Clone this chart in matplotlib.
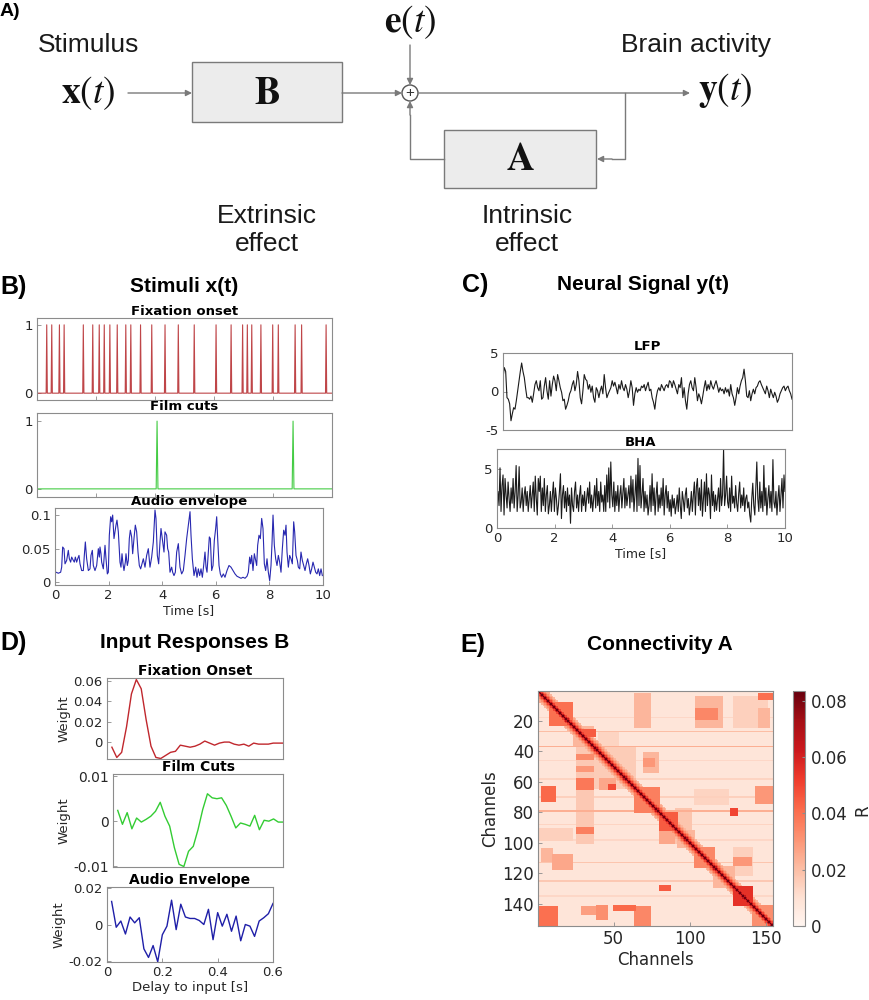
import matplotlib
matplotlib.use("Agg")
import matplotlib.pyplot as plt
import numpy as np
from matplotlib.patches import Rectangle, Circle
from matplotlib.ticker import FormatStrFormatter

plt.rcParams["font.family"] = ["DejaVu Sans"]
plt.rcParams["mathtext.fontset"] = "stix"
plt.rcParams["axes.unicode_minus"] = False

W, H = 869, 1000

# ---- data ----
fixation_onsets = [0.33, 0.50, 0.76, 0.92, 1.57, 1.89, 2.11, 2.28, 2.47, 2.72, 3.01, 3.18,
                   3.51, 3.89, 4.34, 4.79, 5.33, 6.07, 6.58, 6.97, 7.13, 7.28, 7.59, 7.99,
                   8.18, 8.75, 8.97, 9.80]
film_cuts = [4.07, 8.68]

audio_env = [
    (0.0, 0.015), (0.037, 0.015), (0.124, 0.0135), (0.211, 0.015), (0.249, 0.0225), (0.286, 0.0525),
    (0.336, 0.05), (0.373, 0.0275), (0.435, 0.0325), (0.497, 0.0475), (0.535, 0.035), (0.584, 0.03),
    (0.622, 0.0375), (0.684, 0.0325), (0.721, 0.03), (0.759, 0.0375), (0.808, 0.03), (0.846, 0.035),
    (0.895, 0.04), (0.933, 0.0275), (0.995, 0.0175), (1.057, 0.0175), (1.094, 0.04), (1.132, 0.06),
    (1.181, 0.035), (1.244, 0.0175), (1.306, 0.02), (1.343, 0.04), (1.393, 0.0475), (1.430, 0.025),
    (1.492, 0.0175), (1.555, 0.025), (1.617, 0.05), (1.654, 0.0375), (1.679, 0.0525), (1.716, 0.0425),
    (1.741, 0.03), (1.803, 0.02), (1.841, 0.0425), (1.866, 0.055), (1.903, 0.035), (1.953, 0.0125),
    (1.990, 0.015), (2.027, 0.07), (2.077, 0.0975), (2.114, 0.09), (2.152, 0.1), (2.201, 0.065),
    (2.239, 0.075), (2.276, 0.085), (2.313, 0.0925), (2.363, 0.075), (2.425, 0.03), (2.462, 0.0225),
    (2.500, 0.0425), (2.537, 0.0275), (2.574, 0.0175), (2.624, 0.03), (2.649, 0.0425), (2.699, 0.025),
    (2.736, 0.0325), (2.773, 0.065), (2.811, 0.0775), (2.860, 0.0675), (2.898, 0.0425), (2.947, 0.065),
    (2.997, 0.085), (3.047, 0.075), (3.097, 0.045), (3.146, 0.025), (3.196, 0.02), (3.246, 0.0275),
    (3.296, 0.035), (3.358, 0.0225), (3.420, 0.04), (3.482, 0.05), (3.544, 0.0225), (3.607, 0.0375),
    (3.669, 0.06), (3.731, 0.1075), (3.768, 0.095), (3.818, 0.04), (3.868, 0.0275), (3.918, 0.06),
    (3.955, 0.08), (4.017, 0.06), (4.067, 0.045), (4.104, 0.075), (4.166, 0.07), (4.204, 0.05),
    (4.241, 0.045), (4.291, 0.015), (4.353, 0.0225), (4.390, 0.015), (4.440, 0.01), (4.490, 0.015),
    (4.540, 0.045), (4.602, 0.0575), (4.664, 0.0225), (4.726, 0.0125), (4.788, 0.0175), (4.851, 0.04),
    (4.913, 0.065), (4.975, 0.085), (5.038, 0.105), (5.075, 0.07), (5.125, 0.035), (5.187, 0.01),
    (5.249, 0.0225), (5.299, 0.0075), (5.348, 0.02), (5.398, 0.01), (5.448, 0.02), (5.498, 0.0075),
    (5.547, 0.025), (5.597, 0.045), (5.635, 0.0225), (5.672, 0.015), (5.722, 0.045), (5.759, 0.0675),
    (5.796, 0.065), (5.846, 0.0175), (5.896, 0.025), (5.945, 0.0625), (5.995, 0.08), (6.033, 0.0975),
    (6.070, 0.065), (6.120, 0.025), (6.169, 0.0125), (6.219, 0.0075), (6.281, 0.0125), (6.343, 0.0075),
    (6.418, 0.0175), (6.493, 0.025), (6.567, 0.0225), (6.642, 0.0175), (6.717, 0.0125), (6.791, 0.009),
    (6.866, 0.0075), (6.941, 0.006), (7.015, 0.0075), (7.090, 0.006), (7.164, 0.009), (7.214, 0.015),
    (7.264, 0.0375), (7.301, 0.0275), (7.339, 0.04), (7.388, 0.0175), (7.438, 0.0425), (7.488, 0.0325),
    (7.525, 0.025), (7.562, 0.055), (7.612, 0.07), (7.662, 0.065), (7.712, 0.095), (7.761, 0.08),
    (7.811, 0.0275), (7.861, 0.0175), (7.911, 0.035), (7.960, 0.015), (8.010, 0.0025), (8.060, 0.025),
    (8.097, 0.0575), (8.135, 0.1), (8.184, 0.055), (8.234, 0.035), (8.284, 0.025), (8.334, 0.04),
    (8.383, 0.03), (8.433, 0.015), (8.483, 0.05), (8.533, 0.0775), (8.582, 0.07), (8.620, 0.085),
    (8.657, 0.045), (8.707, 0.0225), (8.756, 0.04), (8.806, 0.035), (8.856, 0.0275), (8.906, 0.09),
    (8.943, 0.075), (8.993, 0.04), (9.043, 0.0325), (9.080, 0.0225), (9.130, 0.02), (9.179, 0.045),
    (9.229, 0.0325), (9.279, 0.025), (9.329, 0.0175), (9.378, 0.0275), (9.428, 0.035), (9.478, 0.025),
    (9.528, 0.0125), (9.577, 0.02), (9.627, 0.03), (9.677, 0.0225), (9.727, 0.015), (9.776, 0.0125),
    (9.826, 0.02), (9.876, 0.01), (9.926, 0.02), (9.975, 0.01),
]

lfp = [1.8, 3.1, 2.6, -0.8, -1.0, -1.6, -3.8, -2.9, -2.1, -2.3, -1.2, 0.1, 1.4, 2.6, 3.7, 2.6, 1.8, 0.4, -0.8, -0.8,
       -1.0, -0.6, -1.4, -0.3, 0.9, 1.4, 0.5, 0.1, 1.4, -1.0, -0.8, 0.7, 1.8, 0.1, -1.0, 1.4, -0.6, 0.9, 2.0, 1.4,
       0.1, 2.2, 1.4, 0.5, -0.1, -1.2, -1.0, -2.3, -1.8, -1.2, -0.3, 0.1, 0.9, 1.4, 0.1, 0.9, 2.6, 1.4, -0.8, -1.6,
       0.1, 2.2, 1.6, 1.4, 0.3, 0.9, -0.1, 0.7, -0.8, -1.4, 0.5, 0.1, -0.8, 0.1, 0.7, -0.3, 2.2, 0.5, -0.8, -0.3,
       0.1, 0.5, 1.4, 0.7, 1.2, 0.5, -0.3, 0.9, 0.3, 1.4, 0.5, 0.1, 0.9, 0.3, -0.8, 0.1, 1.4, 0.5, -1.8, -0.3,
       0.5, -0.1, 0.3, 0.1, 0.7, 0.5, 0.9, 0.1, 0.7, 1.2, 0.1, 0.3, -0.8, -1.4, -2.3, -0.8, 0.1, 0.5, 0.1, 0.9,
       0.5, 0.1, 0.7, 0.9, 0.5, 1.4, 1.2, 0.5, 1.4, 0.9, 0.3, -0.3, 0.9, 0.5, 1.8, -0.8, 0.5, -1.2, -2.3, -0.3,
       0.9, 1.4, 0.5, 0.1, 1.8, 0.5, -1.2, -0.3, -0.8, -1.6, -0.6, 0.5, 1.4, 0.1, 0.9, 0.3, 1.4, 0.7, 0.3, 0.9,
       1.4, 0.7, -0.1, 0.5, 0.1, 0.3, -0.3, 0.5, -0.1, 0.3, -0.6, 0.9, -0.3, -0.8, -1.8, -0.8, 0.5, -0.3, 0.7, 1.4,
       1.8, 2.9, 1.4, -0.6, -0.8, 0.1, -1.2, -0.3, 0.3, -0.3, 0.5, 0.7, 1.2, 1.4, 0.9, 0.5, 0.1, -0.3, 0.7, 0.1,
       -0.8, 0.3, -0.3, -0.8, -0.1, -0.6, -1.4, -1.0, -0.3, 0.1, 0.5, 0.7, 0.1, 0.5, 0.7, 0.1, -0.3, -1.0]

bha = [2.2, 3.1, 1.9, 5.1, 1.4, 3.6, 4.5, 1.1, 4.2, 2.8, 1.7, 3.9, 2.5, 1.4, 3.4, 2.1, 4.2, 1.7, 3.1, 5.3,
       1.4, 2.8, 5.2, 1.7, 2.2, 3.4, 1.4, 2.8, 3.5, 1.9, 3.1, 1.4, 2.5, 3.6, 1.7, 2.8, 3.9, 1.4, 4.4, 2.5,
       1.1, 4.2, 3.1, 4.4, 1.4, 3.4, 1.9, 4.2, 1.4, 2.8, 3.6, 1.2, 1.9, 3.1, 1.4, 2.8, 3.9, 1.4, 3.4, 2.5,
       1.1, 1.9, 3.1, 4.6, 0.8, 2.8, 3.6, 1.7, 3.1, 1.4, 3.4, 1.9, 2.8, 0.4, 3.4, 1.9, 1.4, 3.1, 3.9, 1.7,
       2.8, 1.4, 2.8, 3.6, 1.4, 2.8, 1.9, 3.1, 1.4, 2.5, 3.4, 2.1, 3.9, 1.7, 2.8, 1.4, 2.5, 3.6, 1.7, 4.2,
       1.9, 3.1, 1.4, 3.9, 2.2, 2.8, 1.4, 3.6, 1.4, 4.5, 2.2, 5.1, 1.7, 5.6, 2.8, 1.8, 3.9, 1.4, 3.1, 1.9,
       3.6, 1.4, 2.8, 3.6, 1.7, 2.9, 4.2, 1.7, 3.4, 1.9, 2.8, 3.6, 1.7, 4.4, 2.2, 4.1, 1.4, 2.8, 4.5, 1.4,
       5.9, 1.9, 5.3, 1.7, 2.8, 4.2,
       1.4, 3.1, 1.7, 2.8, 1.1, 1.9, 3.6, 1.4, 4.6, 1.9, 3.4, 1.1, 2.8, 3.9, 1.4, 2.8, 1.7, 3.4, 1.9, 4.2,
       1.1, 2.8, 3.6, 1.7, 3.1, 1.4, 2.4, 1.0, 2.8, 1.7, 2.5, 1.2, 1.9, 2.8, 1.4, 3.4, 1.9, 0.8, 3.1, 2.4,
       1.4, 2.8, 3.4, 1.7, 2.5, 1.1, 1.9, 3.1, 1.4, 2.8, 3.9, 1.1, 3.5, 4.2, 1.9, 3.4, 1.5, 4.1, 1.0, 2.5,
       3.9, 1.4, 4.6, 1.9, 3.4, 2.8, 0.8, 4.5, 1.9, 3.1, 1.4, 2.8, 1.5, 2.5, 3.4, 1.4, 4.2, 1.9, 2.8, 6.7,
       1.9, 2.8, 4.4, 2.2, 1.7, 3.4, 1.4, 4.4, 2.1, 2.7, 1.7, 3.6, 2.1, 1.4, 2.9, 3.9, 1.7, 2.8, 1.9, 3.4,
       1.4, 2.5, 2.8, 1.7, 2.2, 1.1, 0.5, 2.5, 3.8, 1.9, 1.1, 3.4, 5.6, 2.5, 1.4, 3.9, 1.7, 3.1, 1.4, 5.3,
       1.9, 3.4, 1.1, 2.5, 3.6, 1.7, 3.1, 1.4, 5.8, 2.2, 1.7, 3.1, 1.1, 2.5, 3.6, 1.4, 2.8, 4.2, 1.7, 4.5, 3.1]

# kernels B, one value per lag of 1/60 s (36 lags)
kernel_fixation = [-0.005, -0.015, -0.010, 0.015, 0.047, 0.061, 0.052, 0.022, -0.004, -0.015, -0.016, -0.013,
                   -0.010, -0.009, -0.003, -0.004, -0.005, -0.004, -0.002, 0.001, -0.001, -0.003, -0.001, 0.000,
                   0.000, -0.002, -0.003, -0.002, -0.004, -0.001, -0.002, -0.002, -0.002, -0.001, -0.001, -0.001]
kernel_film = [0.0024, -0.0007, 0.0019, -0.0017, 0.0007, -0.0002, 0.0004, 0.0011, 0.0022, 0.0042, 0.0011, -0.0011,
               -0.0059, -0.0096, -0.0101, -0.0067, -0.0056, -0.0019, 0.0026, 0.0061, 0.0052, 0.0050, 0.0052, 0.0035,
               0.0011, -0.0015, -0.0004, -0.0007, -0.0011, 0.0013, -0.0019, 0.0002, 0.0000, 0.0005, -0.0002, -0.0002]
kernel_audio = [0.0126, -0.0015, 0.0019, -0.0052, 0.0041, 0.0009, 0.0037, -0.0133, -0.018, -0.0115, -0.0204, -0.0056,
                -0.0009, 0.0133, -0.0028, 0.0111, 0.0041, 0.0033, 0.0033, 0.0022, 0.0000, 0.0083, -0.0083, 0.0065,
                -0.0009, 0.0056, -0.0037, 0.0046, -0.0089, 0.0000, -0.0009, -0.0065, 0.0019, 0.0037, 0.0059, 0.0115]
lag_step = 1 / 60

# connectivity A: 154 channels, described by blocks (first, last channel, value)
n_channels = 154
background_r = 0.008
# value at distance 0, 1, 2, ... from the diagonal
diag_band = [0.083, 0.065, 0.05, 0.04, 0.032, 0.026, 0.022]
diag_blocks = [(1, 8, 0.026), (8, 23, 0.04), (24, 37, 0.022), (38, 64, 0.016), (64, 80, 0.036),
               (80, 92, 0.045), (92, 103, 0.022), (103, 116, 0.034), (116, 129, 0.022), (129, 141, 0.055),
               (141, 154, 0.032)]
# (row first, row last, col first, col last, value)
offdiag_patches = [
    (63, 73, 3, 12, 0.042), (142, 154, 1, 13, 0.04), (108, 117, 10, 23, 0.026), (104, 112, 3, 10, 0.022),
    (28, 100, 26, 37, 0.017), (42, 45, 26, 37, 0.033), (50, 53, 26, 37, 0.03), (58, 65, 26, 37, 0.038),
    (90, 94, 26, 37, 0.036), (26, 30, 27, 38, 0.045), (58, 65, 41, 51, 0.026), (62, 65, 47, 51, 0.048),
    (38, 50, 42, 64, 0.015), (2, 24, 64, 74, 0.022), (41, 54, 70, 79, 0.022), (4, 24, 104, 121, 0.022),
    (12, 19, 104, 118, 0.034), (4, 24, 129, 151, 0.015), (12, 24, 145, 152, 0.022), (2, 6, 145, 154, 0.04),
    (63, 74, 143, 154, 0.03), (78, 82, 127, 131, 0.05), (128, 131, 80, 87, 0.045), (141, 144, 50, 64, 0.042),
    (142, 147, 29, 38, 0.028), (141, 150, 39, 46, 0.032), (142, 154, 64, 74, 0.034), (87, 100, 80, 90, 0.026),
    (78, 100, 91, 101, 0.018), (110, 115, 129, 140, 0.03), (103, 121, 129, 141, 0.015), (91, 98, 1, 23, 0.015),
    (28, 38, 40, 53, 0.014), (65, 75, 103, 125, 0.014), (45, 50, 70, 77, 0.03),
]
streak_rows = [(27, 0.02), (37, 0.024), (58, 0.014), (79, 0.024), (98, 0.013), (113, 0.018),
               (125, 0.017), (135, 0.013), (18, 0.013), (88, 0.014), (46, 0.013), (70, 0.015)]

# ---- build connectivity matrix ----
conn = np.full((n_channels, n_channels), background_r)
for a, b, v in diag_blocks:
    conn[a - 1:b, a - 1:b] = np.maximum(conn[a - 1:b, a - 1:b], v)
for r0, r1, c0, c1, v in offdiag_patches:
    conn[r0 - 1:r1, c0 - 1:c1] = np.maximum(conn[r0 - 1:r1, c0 - 1:c1], v)
for r, v in streak_rows:
    conn[r - 1, :] = np.maximum(conn[r - 1, :], v)
idx = np.arange(n_channels)
for d, v in enumerate(diag_band):
    i = idx[:n_channels - d]
    conn[i, i + d] = np.maximum(conn[i, i + d], v)
    conn[i + d, i] = np.maximum(conn[i + d, i], v)

# ---- figure ----
fig = plt.figure(figsize=(W / 100, H / 100), dpi=100)

GRAY = "#8c8c8c"
TXT = "#262626"
FS = 9.5


def add_ax(x0, y0, x1, y1):
    return fig.add_axes([x0 / W, 1 - y1 / H, (x1 - x0) / W, (y1 - y0) / H])


def ftext(x, y, s, **kw):
    fig.text(x / W, 1 - y / H, s, **kw)


def style(ax, fs=FS):
    for s in ax.spines.values():
        s.set_color(GRAY)
        s.set_linewidth(0.8)
    ax.tick_params(direction="in", length=3, width=0.6, color=GRAY,
                   labelcolor=TXT, labelsize=fs, pad=3)


def spikes(times, width):
    xs, ys = [0.0], [0.0]
    for t in times:
        xs += [t - width, t, t + width]
        ys += [0, 1, 0]
    xs.append(10.0)
    ys.append(0.0)
    return xs, ys


# ---- panel A: schematic ----
axa = fig.add_axes([0, 1 - 270 / H, 1, 270 / H])
axa.set_xlim(0, W)
axa.set_ylim(270, 0)
axa.axis("off")
LC = "#7a7a7a"
arr = dict(arrowstyle="-|>", color=LC, lw=1.0, mutation_scale=9, shrinkA=0, shrinkB=0)
axa.add_patch(Rectangle((192, 62), 150, 60, facecolor="#ececec", edgecolor=LC, lw=1.0))
axa.add_patch(Rectangle((444, 130), 152, 58, facecolor="#ececec", edgecolor=LC, lw=1.0))
axa.add_patch(Circle((410, 93), 8, facecolor="white", edgecolor="#555555", lw=1.0))
axa.text(410, 93.5, "+", ha="center", va="center", fontsize=11, color="#333333", family="Liberation Sans")
axa.annotate("", xy=(192, 93), xytext=(128, 93), arrowprops=arr)
axa.annotate("", xy=(402, 93), xytext=(342, 93), arrowprops=arr)
axa.annotate("", xy=(410, 85), xytext=(410, 45), arrowprops=arr)
axa.annotate("", xy=(690, 93), xytext=(418, 93), arrowprops=arr)
axa.plot([625, 625, 612], [93, 159, 159], color=LC, lw=1.0)
axa.annotate("", xy=(597, 159), xytext=(612, 159), arrowprops=arr)
axa.plot([444, 410, 410], [159, 159, 115], color=LC, lw=1.0)
axa.annotate("", xy=(410, 101), xytext=(410, 115), arrowprops=arr)

axa.text(0, 12, "A)", fontsize=14, fontweight="bold", family="Liberation Sans", va="center", ha="left")
sty = dict(fontsize=19, family="Liberation Sans", color="#1a1a1a")
axa.text(38, 45, "Stimulus", ha="left", va="center", **sty)
axa.text(696, 45, "Brain activity", ha="center", va="center", **sty)
axa.text(267, 230, "Extrinsic\neffect", ha="center", va="center", linespacing=1.25, **sty)
axa.text(527, 230, "Intrinsic\neffect", ha="center", va="center", linespacing=1.25, **sty)
axa.text(88, 93, r"$\mathbf{x}(t)$", ha="center", va="center", fontsize=27, color="#111111")
axa.text(410, 22, r"$\mathbf{e}(t)$", ha="center", va="center", fontsize=27, color="#111111")
axa.text(725, 90, r"$\mathbf{y}(t)$", ha="center", va="center", fontsize=27, color="#111111")
axa.text(267, 93, r"$\mathbf{B}$", ha="center", va="center", fontsize=28, color="#111111")
axa.text(520, 159, r"$\mathbf{A}$", ha="center", va="center", fontsize=28, color="#111111")

# ---- panel headings ----
hd = dict(family="Liberation Sans", fontweight="bold", va="center", color="black")
ftext(0, 287, "B)", fontsize=18, ha="left", **hd)
ftext(184, 287, "Stimuli x(t)", fontsize=15, ha="center", **hd)
ftext(462, 285, "C)", fontsize=18, ha="left", **hd)
ftext(643, 285, "Neural Signal y(t)", fontsize=15, ha="center", **hd)
ftext(0, 643, "D)", fontsize=18, ha="left", **hd)
ftext(195, 643, "Input Responses B", fontsize=15, ha="center", **hd)
ftext(460, 645, "E)", fontsize=18, ha="left", **hd)
ftext(660, 645, "Connectivity A", fontsize=15, ha="center", **hd)

sub = dict(fontsize=9.5, fontweight="bold", pad=2.5)

# ---- panel B ----
ax = add_ax(37, 318, 332, 400)
xs, ys = spikes(fixation_onsets, 0.02)
ax.plot(xs, ys, color="#bf4548", lw=0.8)
ax.set_xlim(0, 10)
ax.set_ylim(-0.1, 1.1)
ax.set_yticks([0, 1])
ax.set_xticks(range(0, 11, 2))
ax.set_xticklabels([])
ax.set_title("Fixation onset", **sub)
style(ax)

ax = add_ax(37, 413, 332, 497)
xs, ys = spikes(film_cuts, 0.03)
ax.plot(xs, ys, color="#45cc45", lw=0.8)
ax.set_xlim(0, 10)
ax.set_ylim(-0.12, 1.12)
ax.set_yticks([0, 1])
ax.set_xticks(range(0, 11, 2))
ax.set_xticklabels([])
ax.set_title("Film cuts", **sub)
style(ax)

ax = add_ax(55, 508, 323, 585)
aud = np.array(audio_env)
ax.plot(aud[:, 0], aud[:, 1], color="#2828b0", lw=0.8)
ax.set_xlim(0, 10)
ax.set_ylim(-0.004, 0.1105)
ax.set_yticks([0, 0.05, 0.1])
ax.yaxis.set_major_formatter(FormatStrFormatter("%g"))
ax.set_xticks(range(0, 11, 2))
ax.set_title("Audio envelope", **sub)
ax.set_xlabel("Time [s]", fontsize=9, color=TXT, labelpad=1)
style(ax)

# ---- panel C ----
ax = add_ax(503, 353, 792, 430)
ax.plot(np.linspace(0, 10, len(lfp)), lfp, color="#1a1a1a", lw=0.8)
ax.set_xlim(0, 10)
ax.set_ylim(-5, 5)
ax.set_yticks([-5, 0, 5])
ax.set_xticks([])
ax.set_title("LFP", **sub)
style(ax)

ax = add_ax(497, 449, 785, 528)
ax.plot(np.linspace(0, 10, len(bha)), bha, color="#1a1a1a", lw=0.8)
ax.set_xlim(0, 10)
ax.set_ylim(0, 6.7)
ax.set_yticks([0, 5])
ax.set_xticks(range(0, 11, 2))
ax.set_title("BHA", **sub)
ax.set_xlabel("Time [s]", fontsize=9, color=TXT, labelpad=1)
style(ax)

# ---- panel D ----
lags = np.arange(1, len(kernel_fixation) + 1) * lag_step
subd = dict(fontsize=10, fontweight="bold", pad=2.5)

ax = add_ax(107, 678, 283, 759)
ax.plot(lags, kernel_fixation, color="#c0272d", lw=1.0)
ax.set_xlim(0, 0.6)
ax.set_ylim(-0.0165, 0.0625)
ax.set_yticks([0, 0.02, 0.04, 0.06])
ax.yaxis.set_major_formatter(FormatStrFormatter("%g"))
ax.set_xticks([])
ax.set_ylabel("Weight", fontsize=FS, color=TXT, labelpad=2)
ax.set_title("Fixation Onset", **subd)
style(ax)

ax = add_ax(113, 774, 283, 867)
ax.plot(lags, kernel_film, color="#33cc33", lw=1.0)
ax.set_xlim(0, 0.6)
ax.set_ylim(-0.0102, 0.0105)
ax.set_yticks([-0.01, 0, 0.01])
ax.yaxis.set_major_formatter(FormatStrFormatter("%g"))
ax.set_xticks([])
ax.set_ylabel("Weight", fontsize=FS, color=TXT, labelpad=2)
ax.set_title("Film Cuts", **subd)
style(ax, fs=10)

ax = add_ax(107, 887, 273, 962)
ax.plot(lags, kernel_audio, color="#1f1fa8", lw=1.0)
ax.set_xlim(0, 0.6)
ax.set_ylim(-0.0205, 0.0205)
ax.set_yticks([-0.02, 0, 0.02])
ax.yaxis.set_major_formatter(FormatStrFormatter("%g"))
ax.set_xticks([0, 0.2, 0.4, 0.6])
ax.xaxis.set_major_formatter(FormatStrFormatter("%g"))
ax.set_ylabel("Weight", fontsize=FS, color=TXT, labelpad=2)
ax.set_xlabel("Delay to input [s]", fontsize=FS, color=TXT, labelpad=1)
ax.set_title("Audio Envelope", **subd)
style(ax)

# ---- panel E ----
ax = add_ax(538, 691, 773, 926)
im = ax.imshow(conn, cmap="Reds", vmin=0, vmax=0.0835, aspect="auto", interpolation="nearest",
               extent=(0.5, n_channels + 0.5, n_channels + 0.5, 0.5))
ax.set_xticks([50, 100, 150])
ax.set_yticks(range(20, 141, 20))
ax.set_xlabel("Channels", fontsize=12, color=TXT, labelpad=2)
ax.set_ylabel("Channels", fontsize=12, color=TXT, labelpad=2)
style(ax, fs=12)

cax = add_ax(793, 691, 805, 926)
cb = fig.colorbar(im, cax=cax)
cb.set_ticks([0, 0.02, 0.04, 0.06, 0.08])
cb.set_ticklabels(["0", "0.02", "0.04", "0.06", "0.08"])
cb.outline.set_edgecolor(GRAY)
cb.outline.set_linewidth(0.8)
cax.tick_params(direction="in", length=2, color=GRAY, labelcolor=TXT, labelsize=12, pad=4)
ftext(862, 810, "R", fontsize=12, rotation=90, ha="center", va="center", color=TXT)

fig.savefig("out.png", dpi=100, facecolor="white")
